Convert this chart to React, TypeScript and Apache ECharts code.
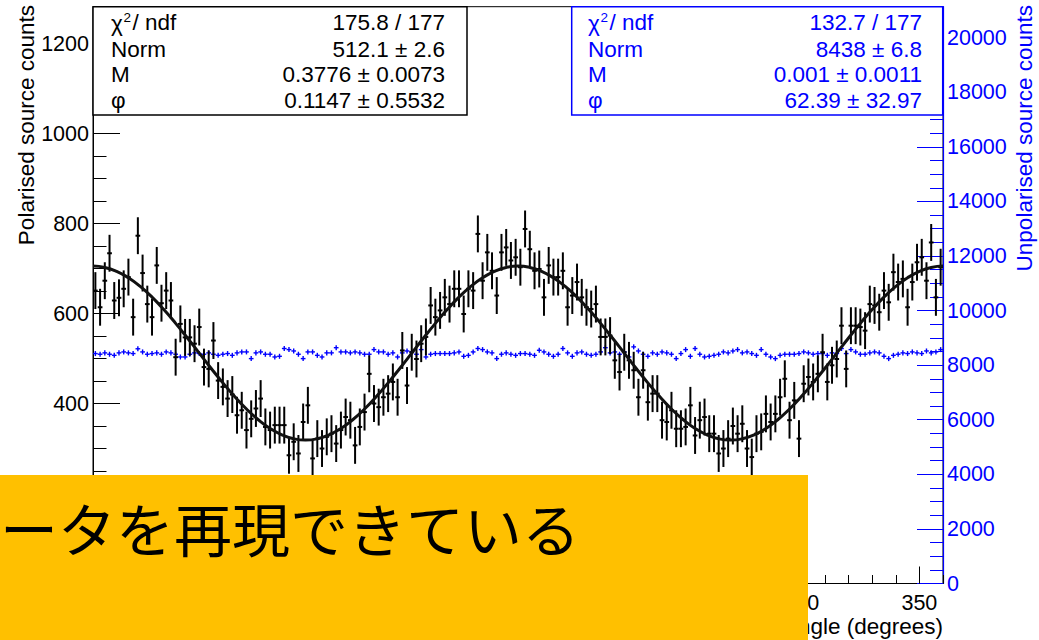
import React, { useEffect, useRef } from "react";
import * as echarts from "echarts";

const FONT = '"Liberation Sans", Arial, Helvetica, sans-serif';
const CJK_FONT = '"Noto Sans CJK JP", "Noto Sans CJK SC", sans-serif';
const BLUE = "#0000ff";

// Polarised source counts per 2-degree bin
const polarisedCounts = [
  651, 614, 673, 734, 629, 635, 655, 681, 592, 773, 690, 621, 592, 707, 623, 651, 629, 503, 577, 547, 547, 533, 570, 481, 477, 540, 451, 437, 411, 420,
  374, 385, 341, 366, 389, 411, 348, 341, 352, 352, 352, 285, 315, 289, 359, 396, 278, 322, 300, 326, 333, 311, 341, 370, 363, 307, 348, 381, 466, 400,
  392, 414, 422, 448, 414, 518, 440, 514, 499, 533, 548, 618, 592, 607, 636, 621, 655, 655, 599, 655, 651, 777, 673, 736, 695, 640, 736, 747, 718, 725,
  703, 788, 743, 695, 699, 636, 707, 681, 681, 695, 614, 640, 670, 636, 614, 610, 621, 548, 548, 551, 496, 470, 514, 496, 474, 414, 474, 403, 422, 422,
  363, 359, 385, 344, 344, 348, 396, 329, 363, 370, 333, 333, 289, 300, 322, 350, 333, 355, 300, 281, 333, 337, 377, 359, 377, 414, 455, 363, 407, 322,
  444, 459, 448, 466, 514, 448, 485, 499, 573, 477, 573, 573, 570, 562, 621, 618, 603, 651, 625, 692, 670, 677, 614, 670, 714, 725, 673, 758, 636, 703,
];

// Unpolarised source counts per 2-degree bin
const unpolarisedCounts = [
  8425, 8400, 8450, 8400, 8360, 8450, 8485, 8450, 8425, 8600, 8485, 8400, 8425, 8450, 8400, 8485, 8450, 8400, 8300, 8300, 8400, 8450, 8425, 8400, 8450, 8400, 8360, 8400, 8425, 8360,
  8450, 8485, 8485, 8240, 8450, 8485, 8400, 8400, 8300, 8325, 8610, 8570, 8520, 8400, 8240, 8485, 8485, 8360, 8300, 8450, 8450, 8640, 8485, 8485, 8450, 8485, 8450, 8400, 8400, 8570,
  8485, 8485, 8400, 8450, 8300, 8450, 8520, 8485, 8400, 8570, 8300, 8400, 8425, 8425, 8425, 8425, 8450, 8485, 8325, 8360, 8485, 8610, 8570, 8485, 8450, 8240, 8400, 8450, 8400, 8360,
  8425, 8425, 8400, 8360, 8545, 8485, 8400, 8325, 8400, 8610, 8450, 8325, 8450, 8485, 8400, 8360, 8400, 8485, 8640, 8450, 8485, 8400, 8485, 8300, 8670, 8520, 8400, 8325, 8450, 8400,
  8485, 8450, 8400, 8240, 8425, 8570, 8325, 8610, 8400, 8300, 8325, 8360, 8400, 8485, 8450, 8520, 8570, 8450, 8485, 8425, 8360, 8570, 8400, 8300, 8240, 8360, 8400, 8400, 8400, 8425,
  8485, 8450, 8400, 8425, 8425, 8360, 8450, 8425, 8610, 8425, 8570, 8485, 8400, 8400, 8450, 8485, 8450, 8325, 8240, 8360, 8400, 8450, 8425, 8485, 8450, 8425, 8520, 8450, 8485, 8570,
];

const POL_ERR = 41;
const UNPOL_ERR = 92;
const BIN_WIDTH = 2;

// Fit curve of the polarised counts, sampled every 5 degrees (0..360)
const fitCurve = [
  705.5, 702.5, 693.8, 679.6, 660.2, 636.4, 608.8, 578.2, 545.7, 512.1, 478.5, 446.0, 415.4, 387.8, 364.0, 344.6, 330.4, 321.7, 318.7,
  321.7, 330.4, 344.6, 364.0, 387.8, 415.4, 446.0, 478.5, 512.1, 545.7, 578.2, 608.8, 636.4, 660.2, 679.6, 693.8, 702.5, 705.5,
  702.5, 693.8, 679.6, 660.2, 636.4, 608.8, 578.2, 545.7, 512.1, 478.5, 446.0, 415.4, 387.8, 364.0, 344.6, 330.4, 321.7, 318.7,
  321.7, 330.4, 344.6, 364.0, 387.8, 415.4, 446.0, 478.5, 512.1, 545.7, 578.2, 608.8, 636.4, 660.2, 679.6, 693.8, 702.5, 705.5,
];
const FIT_STEP = 5;

// Left-axis labels below this value sit under the overlay box and are not shown
const LEFT_LABEL_MIN_VISIBLE = 300;

// Stats boxes
const polStatsLabels = ["Norm", "M", "φ"];
const polStatsValues = ["175.8 / 177", "512.1 ± 2.6", "0.3776 ± 0.0073", "0.1147 ± 0.5532"];
const unpolStatsLabels = ["Norm", "M", "φ"];
const unpolStatsValues = ["132.7 / 177", "8438 ± 6.8", "0.001 ± 0.0011", "62.39 ± 32.97"];

const X_TITLE = "Angle (degrees)";
const Y_LEFT_TITLE = "Polarised source counts";
const Y_RIGHT_TITLE = "Unpolarised source counts";
const OVERLAY_TEXT = "ータを再現できている";

const binCenters = polarisedCounts.map((_, i) => BIN_WIDTH * i + BIN_WIDTH / 2);
const fitAngles = fitCurve.map((_, i) => i * FIT_STEP);

function errorBars(color: string, width: number) {
  return (_params: any, api: any) => {
    const x = api.value(0);
    const y = api.value(1);
    const e = api.value(2);
    const lo = api.coord([x, y - e]);
    const hi = api.coord([x, y + e]);
    const l = api.coord([x - BIN_WIDTH / 2, y]);
    const r = api.coord([x + BIN_WIDTH / 2, y]);
    return {
      type: "group",
      children: [
        { type: "line", shape: { x1: lo[0], y1: lo[1], x2: hi[0], y2: hi[1] }, style: { stroke: color, lineWidth: width } },
        { type: "line", shape: { x1: l[0], y1: l[1], x2: r[0], y2: r[1] }, style: { stroke: color, lineWidth: width } },
      ],
    };
  };
}

function txt(x: number, y: number, text: string, opts: any = {}) {
  const align = opts.align || "left";
  return {
    type: "text",
    x,
    y,
    rotation: opts.rotation || 0,
    z: opts.z ?? 110,
    zlevel: 0,
    style: {
      text,
      fill: opts.color || "#000",
      fontSize: opts.size || 22.5,
      fontFamily: opts.family || FONT,
      textAlign: align,
      textVerticalAlign: "middle",
      align,
      verticalAlign: "middle",
    },
  };
}

function statsBox(x0: number, x1: number, valuesRight: number, labelLeft: number, labels: string[], values: string[], color: string) {
  const rows = [22, 49.5, 74.5, 100.5];
  const els: any[] = [
    { type: "rect", z: 100, shape: { x: x0, y: 6.7, width: x1 - x0, height: 108.3 }, style: { fill: "#fff", stroke: color, lineWidth: 1.5 } },
    txt(labelLeft, rows[0] + 1, "χ", { color }),
    txt(labelLeft + 12.5, rows[0] - 5, "2", { color, size: 13.5 }),
    txt(labelLeft + 21.5, rows[0], "/ ndf", { color }),
  ];
  labels.forEach((lab, i) => els.push(txt(labelLeft, rows[i + 1], lab, { color })));
  values.forEach((v, i) => els.push(txt(valuesRight, rows[i], v, { color, align: "right" })));
  return els;
}

export default function App() {
  const ref = useRef<HTMLDivElement>(null);
  useEffect(() => {
    if (!ref.current) return;
    document.body.style.margin = "0";
    const chart = echarts.init(ref.current, undefined, { renderer: "svg" });
    const labelStyle = { fontSize: 21.5, fontFamily: FONT, color: "#000" };
    const plain = (v: number) => String(v);
    const option: any = {
      animation: false,
      backgroundColor: "#fff",
      grid: { left: 93, right: 96, top: 6.7, bottom: 56.5, show: true, borderColor: "#000", borderWidth: 1, backgroundColor: "transparent" },
      xAxis: [
        {
          type: "value", min: 0, max: 360, interval: 50, position: "bottom",
          axisLine: { onZero: false, lineStyle: { color: "#000", width: 1 } },
          axisTick: { inside: true, length: 17, lineStyle: { color: "#000", width: 1 } },
          axisLabel: { ...labelStyle, margin: 8, showMaxLabel: false, formatter: plain },
          splitLine: { show: false },
        },
        {
          type: "value", min: 0, max: 360, interval: 10, position: "bottom",
          axisLine: { show: false, onZero: false },
          axisTick: { inside: true, length: 8.5, lineStyle: { color: "#000", width: 1 } },
          axisLabel: { show: false },
          splitLine: { show: false },
        },
      ],
      yAxis: [
        {
          type: "value", min: 0, max: 1282, interval: 200, position: "left",
          axisLine: { show: true, onZero: false, lineStyle: { color: "#000", width: 1 } },
          axisTick: { show: true, inside: true, length: 27, lineStyle: { color: "#000", width: 1 } },
          minorTick: { show: true, splitNumber: 4, length: 13.5, lineStyle: { color: "#000", width: 1 } },
          axisLabel: {
            ...labelStyle, margin: 4, showMaxLabel: false,
            formatter: (v: number) => (v < LEFT_LABEL_MIN_VISIBLE ? "" : String(v)),
          },
          splitLine: { show: false },
        },
        {
          type: "value", min: 0, max: 21134, interval: 2000, position: "right",
          axisLine: { show: true, onZero: false, lineStyle: { color: BLUE, width: 1.2 } },
          axisTick: { show: true, inside: true, length: 26, lineStyle: { color: BLUE, width: 1 } },
          minorTick: { show: true, splitNumber: 4, length: 13, lineStyle: { color: BLUE, width: 1 } },
          axisLabel: { ...labelStyle, color: BLUE, margin: 4, showMaxLabel: false, formatter: plain },
          splitLine: { show: false },
        },
      ],
      series: [
        {
          type: "custom", name: "Unpolarised", xAxisIndex: 0, yAxisIndex: 1, z: 3,
          renderItem: errorBars(BLUE, 1.4),
          encode: { x: 0, y: 1 },
          data: binCenters.map((x, i) => [x, unpolarisedCounts[i], UNPOL_ERR]),
        },
        {
          type: "custom", name: "Polarised", xAxisIndex: 0, yAxisIndex: 0, z: 4,
          renderItem: errorBars("#000", 2),
          encode: { x: 0, y: 1 },
          data: binCenters.map((x, i) => [x, polarisedCounts[i], POL_ERR]),
        },
        {
          type: "line", name: "Fit", xAxisIndex: 0, yAxisIndex: 0, z: 5,
          smooth: true, showSymbol: false, symbol: "none",
          lineStyle: { color: "#111", width: 3 },
          data: fitAngles.map((x, i) => [x, fitCurve[i]]),
        },
      ],
      graphic: [
        ...statsBox(93, 467, 445, 111, polStatsLabels, polStatsValues, "#000"),
        ...statsBox(571.7, 942.7, 922, 588, unpolStatsLabels, unpolStatsValues, BLUE),
        txt(26, 5, Y_LEFT_TITLE, { align: "right", rotation: Math.PI / 2 }),
        txt(1024, 5, Y_RIGHT_TITLE, { align: "right", rotation: Math.PI / 2, color: BLUE }),
        txt(943, 626, X_TITLE, { align: "right", z: 50 }),
        { type: "rect", z: 200, shape: { x: 0, y: 475, width: 808, height: 165 }, style: { fill: "#FFC000" } },
        txt(0, 527, OVERLAY_TEXT, { size: 58, family: CJK_FONT, z: 201 }),
      ],
    };
    chart.setOption(option);
    return () => chart.dispose();
  }, []);
  return <div ref={ref} style={{ position: "absolute", left: 0, top: 0, width: 1039, height: 640 }} />;
}
